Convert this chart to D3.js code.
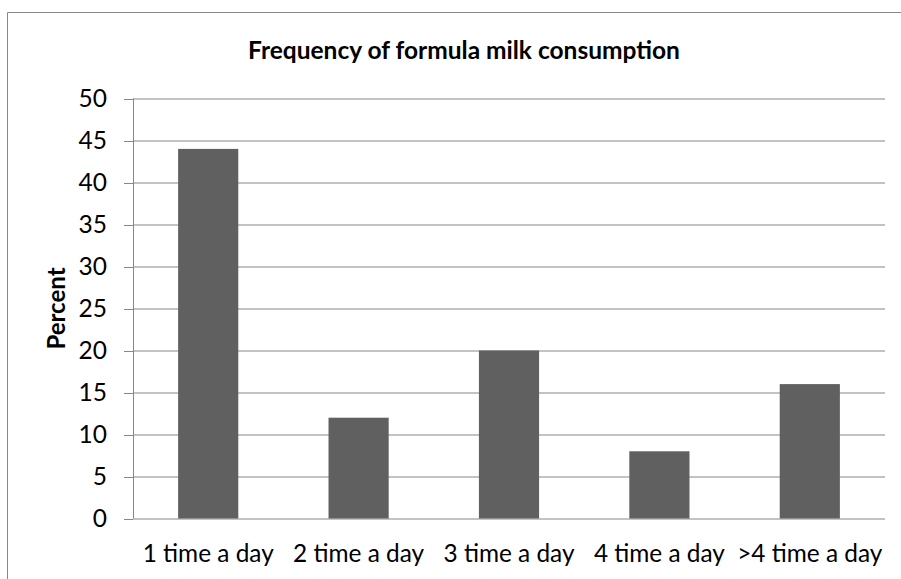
<!DOCTYPE html>
<html>
<head>
<meta charset="utf-8">
<script src="https://cdn.jsdelivr.net/npm/d3@7"></script>
<style>
  html, body { margin: 0; padding: 0; background: #fff; }
  svg { display: block; }
</style>
</head>
<body>
<svg id="chart" width="901" height="579"></svg>
<script>
const categories = ["1 time a day", "2 time a day", "3 time a day", "4 time a day", ">4 time a day"];
const percentValues = [44, 12, 20, 8, 16];
const yTickValues = [0, 5, 10, 15, 20, 25, 30, 35, 40, 45, 50];
const chartTitle = "Frequency of formula milk consumption";
const yAxisTitle = "Percent";

const svg = d3.select("#chart");
const W = 901, H = 579;
const margin = { left: 133, right: 16, top: 98.5, bottom: 60.5 };
const plotW = W - margin.left - margin.right;
const plotH = H - margin.top - margin.bottom;
const font = "Lato, 'Open Sans', sans-serif";
const gridColor = "#878787";
const barColor = "#606060";

// outer chart border
svg.append("path")
  .attr("d", `M7.5,${H} V12.5 H${W}`)
  .attr("fill", "none")
  .attr("stroke", gridColor)
  .attr("stroke-width", 1);

const x = d3.scaleBand().domain(categories).range([0, plotW]).paddingInner(0).paddingOuter(0);
const y = d3.scaleLinear().domain([0, 50]).range([plotH, 0]);

const g = svg.append("g").attr("transform", `translate(${margin.left},${margin.top})`);

// gridlines
g.append("g")
  .selectAll("line")
  .data(yTickValues)
  .join("line")
  .attr("x1", 0).attr("x2", plotW)
  .attr("y1", d => Math.round(y(d)) + 0.5)
  .attr("y2", d => Math.round(y(d)) + 0.5)
  .attr("stroke", gridColor)
  .attr("stroke-width", 1);

// y axis
const yAxis = g.append("g")
  .call(d3.axisLeft(y).tickValues(yTickValues).tickSize(9).tickPadding(17).tickFormat(d3.format("d")));
yAxis.select(".domain").attr("stroke", gridColor).attr("d", `M0.5,${plotH} V0`);
yAxis.selectAll(".tick line").attr("stroke", gridColor)
  .attr("transform", d => `translate(0,${Math.round(y(d)) + 0.5 - y(d)})`);
yAxis.selectAll(".tick text")
  .attr("fill", "#000")
  .style("font-family", font)
  .style("font-size", "24.5px");

// bars
const barW = x.bandwidth() * 0.4;
g.append("g")
  .selectAll("rect")
  .data(categories.map((c, i) => ({ c, v: percentValues[i] })))
  .join("rect")
  .attr("x", d => x(d.c) + (x.bandwidth() - barW) / 2)
  .attr("width", barW)
  .attr("y", d => y(d.v))
  .attr("height", d => y(0) - y(d.v))
  .attr("fill", barColor);

// x axis
const xAxis = g.append("g")
  .attr("transform", `translate(0,${plotH})`)
  .call(d3.axisBottom(x).tickSize(0).tickPadding(0));
xAxis.select(".domain").remove();
xAxis.selectAll(".tick text")
  .attr("y", 43.5)
  .attr("dy", 0)
  .attr("fill", "#000")
  .style("font-family", font)
  .style("font-size", "24.4px");

// title
svg.append("text")
  .attr("x", 464)
  .attr("y", 59)
  .attr("text-anchor", "middle")
  .style("font-family", font)
  .style("font-weight", "bold")
  .style("font-size", "24.5px")
  .text(chartTitle);

// y axis title
svg.append("text")
  .attr("transform", `translate(65,${margin.top + plotH / 2}) rotate(-90)`)
  .attr("text-anchor", "middle")
  .style("font-family", font)
  .style("font-weight", "bold")
  .style("font-size", "24px")
  .text(yAxisTitle);
</script>
</body>
</html>
